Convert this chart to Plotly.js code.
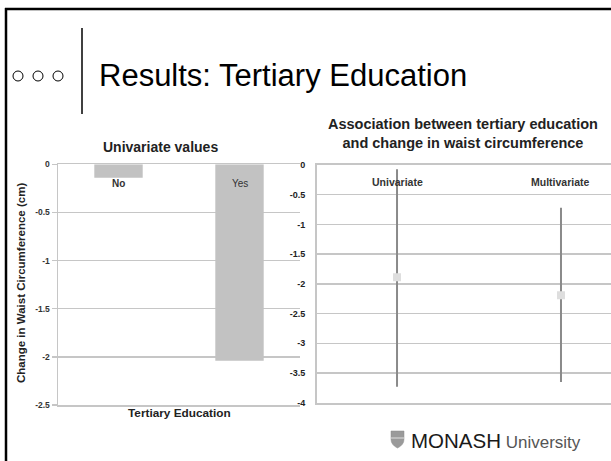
<!DOCTYPE html>
<html>
<head>
<meta charset="utf-8">
<script src="https://cdn.plot.ly/plotly-3.0.1.min.js"></script>
<style>
html,body{margin:0;padding:0;background:#fff;}
#chart{width:611px;height:461px;}
</style>
</head>
<body>
<div id="chart"></div>
<script>
// ---- data ----
const educationCategories = ['No', 'Yes'];
const univariateChange = [-0.14, -2.04];

const modelLabels = ['Univariate', 'Multivariate'];
const modelEstimate = [-1.89, -2.19];
const ciUpper = [-0.07, -0.72];
const ciLower = [-3.73, -3.65];

const leftTicks = [0, -0.5, -1, -1.5, -2, -2.5];
const leftTickText = ['0', '-0.5', '-1', '-1.5', '-2', '-2.5'];
const rightTicks = [0, -0.5, -1, -1.5, -2, -2.5, -3, -3.5, -4];
const rightTickText = ['0', '-0.5', '-1', '-1.5', '-2', '-2.5', '-3', '-3.5', '-4'];

// ---- helpers (pixel -> paper, margins are zero) ----
const W = 611, H = 461;
const px = x => x / W;
const py = y => 1 - y / H;

const FONT = 'Liberation Sans, Arial, sans-serif';
const GRID = '#c6c6c6';

const traces = [
  {
    type: 'bar',
    x: educationCategories,
    y: univariateChange,
    width: 0.4,
    marker: {color: '#c2c2c2'},
    xaxis: 'x', yaxis: 'y',
    hoverinfo: 'skip'
  },
  {
    type: 'scatter',
    mode: 'markers',
    x: modelLabels,
    y: modelEstimate,
    marker: {symbol: 'square', size: 8, color: '#dedede'},
    error_y: {
      type: 'data',
      symmetric: false,
      array: ciUpper.map((u, i) => u - modelEstimate[i]),
      arrayminus: modelEstimate.map((e, i) => e - ciLower[i]),
      color: '#8a8a8a',
      thickness: 2,
      width: 0
    },
    xaxis: 'x2', yaxis: 'y2',
    hoverinfo: 'skip'
  }
];

const annotations = [];
// Slide title
annotations.push({xref:'paper', yref:'paper', x: px(97), y: py(76), xanchor:'left', yanchor:'middle',
  text:'Results: Tertiary Education', showarrow:false, font:{family:FONT, size:31, color:'#000'}});
// MONASH logo text
annotations.push({xref:'paper', yref:'paper', x: px(409), y: py(440), xanchor:'left', yanchor:'middle',
  text:'<span style="color:#1a1a1a;font-size:20.5px">MONASH</span><span style="color:#555;font-size:17px"> University</span>', showarrow:false,
  font:{family:FONT, size:17, color:'#222'}});

// Left chart titles
annotations.push({xref:'paper', yref:'paper', x: px(160), y: py(147), xanchor:'center', yanchor:'middle',
  text:'<b>Univariate values</b>', showarrow:false, font:{family:FONT, size:14, color:'#222'}});
annotations.push({xref:'paper', yref:'paper', x: px(21), y: py(283), xanchor:'center', yanchor:'middle', textangle:-90,
  text:'<b>Change in Waist Circumference (cm)</b>', showarrow:false, font:{family:FONT, size:11.5, color:'#222'}});
annotations.push({xref:'paper', yref:'paper', x: px(179), y: py(413), xanchor:'center', yanchor:'middle',
  text:'<b>Tertiary Education</b>', showarrow:false, font:{family:FONT, size:11.8, color:'#222'}});
// Category labels near zero line
educationCategories.forEach((c, i) => {
  annotations.push({xref:'x', yref:'y', x: c, y: 0, yshift: -19, xanchor:'center', yanchor:'middle',
    text: i === 0 ? '<b>' + c + '</b>' : c, showarrow:false, font:{family:FONT, size:10, color:'#333'}});
});

// Right chart titles
annotations.push({xref:'paper', yref:'paper', x: px(463), y: py(134), xanchor:'center', yanchor:'middle',
  text:'<b>Association between tertiary education<br>and change in waist circumference</b>', showarrow:false,
  font:{family:FONT, size:14.5, color:'#222'}});
modelLabels.forEach(m => {
  annotations.push({xref:'x2', yref:'y2', x: m, y: 0, yshift: -17, xanchor:'center', yanchor:'middle',
    text:'<b>' + m + '</b>', showarrow:false, font:{family:FONT, size:10.5, color:'#333'}});
});

const shapes = [
  // slide border (left + top)
  {type:'line', xref:'paper', yref:'paper', x0: px(6), x1: px(6), y0: py(8), y1: py(461), line:{color:'#000', width:2.5}},
  {type:'line', xref:'paper', yref:'paper', x0: px(5), x1: px(611), y0: py(9), y1: py(9), line:{color:'#000', width:2.5}},
  // vertical divider next to the title
  {type:'line', xref:'paper', yref:'paper', x0: px(82), x1: px(82), y0: py(28), y1: py(114), line:{color:'#000', width:1.5}},
  // three small circles
  {type:'circle', xref:'paper', yref:'paper', x0: px(13), x1: px(23), y0: py(71), y1: py(81), line:{color:'#000', width:1}},
  {type:'circle', xref:'paper', yref:'paper', x0: px(33), x1: px(43), y0: py(71), y1: py(81), line:{color:'#000', width:1}},
  {type:'circle', xref:'paper', yref:'paper', x0: px(53), x1: px(63), y0: py(71), y1: py(81), line:{color:'#000', width:1}},
  // MONASH shield
  {type:'path', xref:'paper', yref:'paper',
   path: 'M ' + px(391) + ' ' + py(431) + ' L ' + px(404) + ' ' + py(431) + ' L ' + px(404) + ' ' + py(439) +
         ' Q ' + px(404) + ' ' + py(445) + ' ' + px(397.5) + ' ' + py(448) +
         ' Q ' + px(391) + ' ' + py(445) + ' ' + px(391) + ' ' + py(439) + ' Z',
   fillcolor:'#9a9a9a', line:{color:'#888', width:0.5}},
  {type:'line', xref:'paper', yref:'paper', x0: px(391), x1: px(404), y0: py(438), y1: py(438), line:{color:'#e0e0e0', width:1}}
];

const layout = {
  width: W, height: H,
  margin: {l:0, r:0, t:0, b:0},
  paper_bgcolor: '#fff', plot_bgcolor: '#fff',
  showlegend: false,
  font: {family: FONT, size: 8, color: '#333'},
  xaxis: {
    domain: [px(58), px(300)],
    type: 'category',
    range: [-0.5, 1.5],
    showticklabels: false, ticks: '',
    showgrid: false, zeroline: false,
    showline: true, mirror: true, linecolor: GRID, linewidth: 1.5,
    anchor: 'y', fixedrange: true
  },
  yaxis: {
    domain: [py(405), py(164.3)],
    range: [-2.5, 0],
    tickvals: leftTicks, ticktext: leftTickText,
    ticks: 'outside', ticklen: 5, tickcolor: GRID, tickwidth: 1.5,
    tickfont: {family: FONT, size: 8.5, color: '#333', weight: 'bold'},
    showgrid: true, gridcolor: GRID, gridwidth: 1.5,
    zeroline: false,
    showline: true, linecolor: GRID, linewidth: 1.5,
    anchor: 'x', fixedrange: true
  },
  xaxis2: {
    domain: [px(317), 1],
    type: 'category',
    range: [-0.488, 1.305],
    showticklabels: false, ticks: '',
    showgrid: false, zeroline: false,
    showline: true, mirror: true, linecolor: GRID, linewidth: 2,
    anchor: 'y2', fixedrange: true
  },
  yaxis2: {
    domain: [py(402.7), py(165)],
    range: [-4, 0],
    tickvals: rightTicks, ticktext: rightTickText,
    ticks: 'outside', ticklen: 4, tickcolor: '#fff',
    ticklabelstandoff: 4,
    tickfont: {family: FONT, size: 9, color: '#222', weight: 'bold'},
    showgrid: true, gridcolor: GRID, gridwidth: 1.5,
    zeroline: false,
    showline: true, mirror: true, linecolor: GRID, linewidth: 2,
    anchor: 'x2', fixedrange: true
  },
  annotations: annotations,
  shapes: shapes
};

Plotly.newPlot('chart', traces, layout, {staticPlot: true, displayModeBar: false});
</script>
</body>
</html>
